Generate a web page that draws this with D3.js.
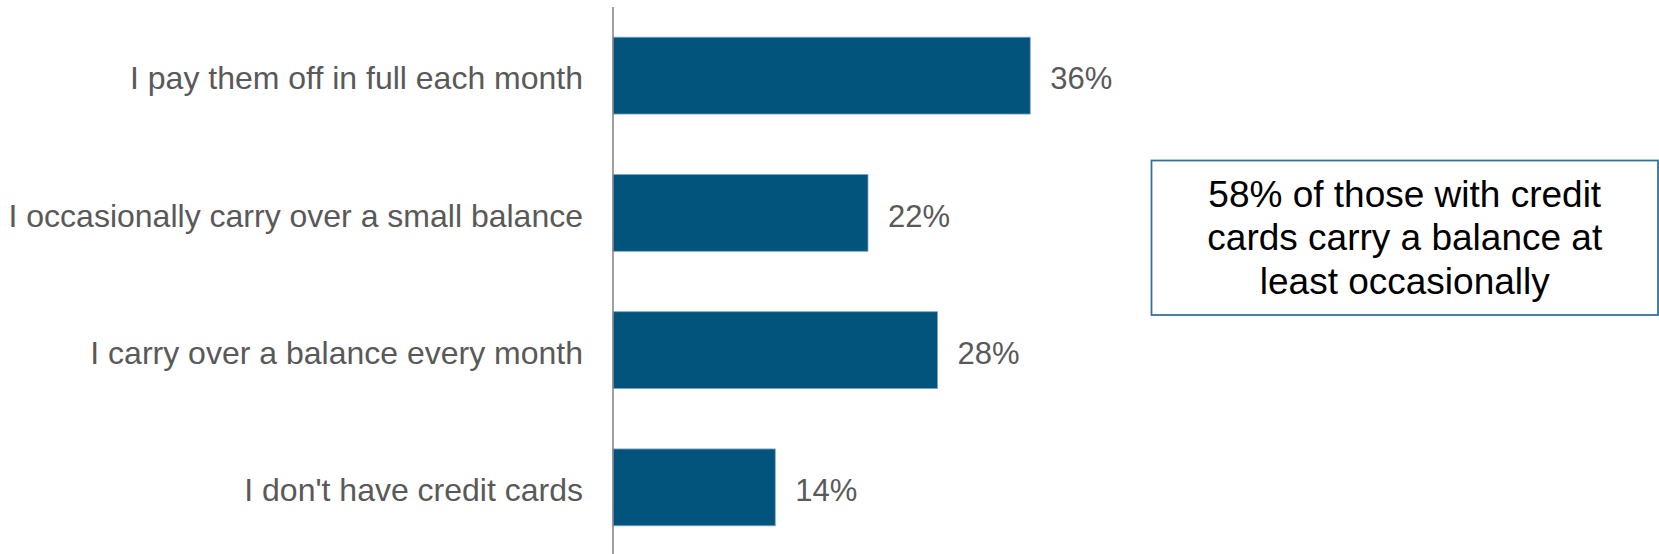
<!DOCTYPE html>
<html>
<head>
<meta charset="utf-8">
<script src="https://cdn.jsdelivr.net/npm/d3@7"></script>
<style>
  html, body { margin: 0; padding: 0; background: #ffffff; }
  svg { display: block; }
  text { font-family: "Liberation Sans", Arial, Helvetica, sans-serif; }
</style>
</head>
<body>
<svg id="chart" width="1659" height="554"></svg>
<script>
// Survey responses: how people handle their credit card balances (percent)
const categories = [
  "I pay them off in full each month",
  "I occasionally carry over a small balance",
  "I carry over a balance every month",
  "I don't have credit cards"
];
const values = [36, 22, 28, 14];
const valueLabels = ["36%", "22%", "28%", "14%"];

// Call-out text, one entry per line
const noteLines = [
  "58% of those with credit",
  "cards carry a balance at",
  "least occasionally"
];

const W = 1659, H = 554;
const svg = d3.select("#chart");

const barColor = "#03547d";
const labelColor = "#595959";

const x = d3.scaleLinear().domain([0, 100]).range([613, 613 + 1159]);
const y = d3.scaleBand()
  .domain(categories)
  .range([7, 556])
  .paddingInner(0.44)
  .paddingOuter(0.22);

// Bars
svg.append("g")
  .selectAll("rect")
  .data(values)
  .join("rect")
  .attr("x", x(0))
  .attr("y", (d, i) => y(categories[i]))
  .attr("width", d => x(d) - x(0))
  .attr("height", y.bandwidth())
  .attr("fill", barColor)
  .attr("stroke", "#7fa6c2")
  .attr("stroke-width", 0.8);

// Category axis: a single vertical rule with labels on the left
const yAxis = d3.axisLeft(y).tickSize(0).tickPadding(30);
const axisG = svg.append("g")
  .attr("transform", `translate(${x(0)},0)`)
  .call(yAxis);
axisG.select(".domain").remove();
axisG.selectAll("text")
  .attr("font-size", 32)
  .attr("fill", labelColor)
  .attr("font-family", "'Liberation Sans', Arial, sans-serif")
  .attr("dy", "0.43em");

svg.append("line")
  .attr("x1", x(0)).attr("x2", x(0))
  .attr("y1", 7).attr("y2", H)
  .attr("stroke", "#808080")
  .attr("stroke-width", 1.5);

// Value labels at the end of each bar
svg.append("g")
  .selectAll("text")
  .data(values)
  .join("text")
  .attr("x", d => x(d) + 20)
  .attr("y", (d, i) => y(categories[i]) + y.bandwidth() / 2)
  .attr("dy", "0.44em")
  .attr("font-size", 31)
  .attr("fill", labelColor)
  .text((d, i) => valueLabels[i]);

// Call-out box
const box = { x0: 1151.5, y0: 160.5, x1: 1658, y1: 315 };
svg.append("rect")
  .attr("x", box.x0)
  .attr("y", box.y0)
  .attr("width", box.x1 - box.x0)
  .attr("height", box.y1 - box.y0)
  .attr("fill", "#ffffff")
  .attr("stroke", "#2f6d9a")
  .attr("stroke-width", 1.75);

const noteCx = (box.x0 + box.x1) / 2;
svg.append("g")
  .selectAll("text")
  .data(noteLines)
  .join("text")
  .attr("x", noteCx)
  .attr("y", (d, i) => 206.5 + i * 43.5)
  .attr("text-anchor", "middle")
  .attr("font-size", 37)
  .attr("fill", "#000000")
  .text(d => d);
</script>
</body>
</html>
